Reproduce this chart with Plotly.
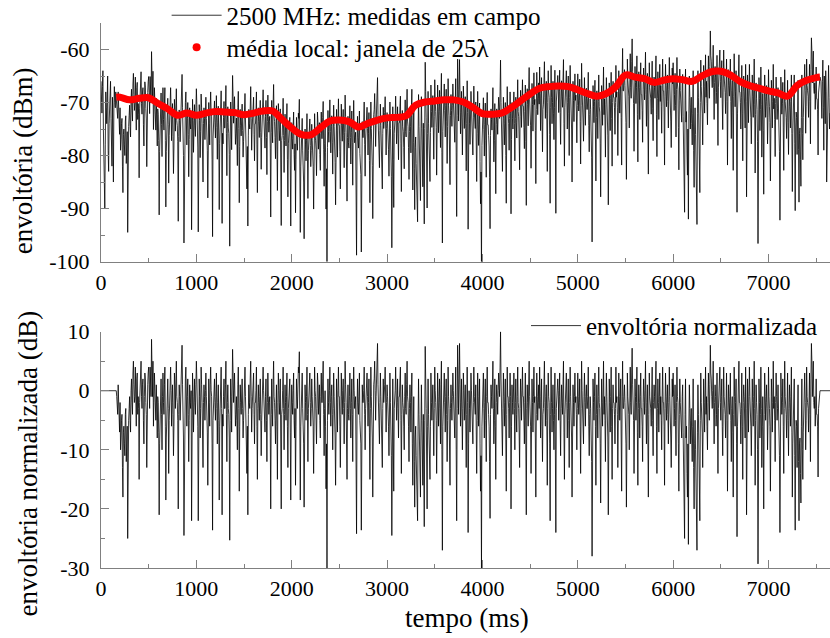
import numpy as np
import plotly.graph_objects as go

FONT = "Liberation Serif, Times New Roman, serif"
AXC = "#808080"

# ---------------- data ----------------
# local mean (red dots) in dBm, time in ms
mean_t = [160, 200, 300, 400, 500, 600, 700, 800, 900, 1000, 1100, 1200, 1300, 1400, 1500,
          1600, 1700, 1800, 1900, 2000, 2100, 2200, 2300, 2400, 2500, 2600, 2700, 2800, 2900,
          3000, 3100, 3200, 3300, 3400, 3500, 3600, 3700, 3800, 3900, 4000, 4100, 4200, 4300,
          4400, 4500, 4600, 4700, 4800, 4900, 5000, 5100, 5200, 5300, 5400, 5500, 5600, 5700,
          5800, 5900, 6000, 6100, 6200, 6300, 6400, 6500, 6600, 6700, 6800, 6900, 7000, 7100,
          7200, 7300, 7400, 7500, 7540]
mean_v = [-69.0, -69.0, -69.5, -69.2, -69.1, -70.2, -71.2, -72.4, -72.0, -72.4, -72.0, -71.7,
          -71.8, -71.9, -72.3, -72.0, -71.6, -71.6, -73.2, -74.8, -76.0, -76.1, -74.8, -73.5,
          -73.3, -73.6, -74.6, -73.9, -73.3, -72.9, -72.8, -72.5, -70.5, -69.9, -69.7, -69.5,
          -69.5, -69.9, -70.9, -72.1, -72.2, -72.0, -71.0, -69.7, -68.4, -67.3, -67.0, -66.9,
          -67.0, -67.6, -68.3, -68.8, -68.3, -67.0, -64.8, -65.2, -65.5, -66.2, -65.8, -65.5,
          -65.7, -66.0, -65.0, -64.2, -64.1, -64.8, -66.0, -66.8, -67.3, -67.8, -68.2, -68.8,
          -66.8, -65.8, -65.3, -65.2]

# normalized envelope (dB), samples at 160, 170, ... ms
norm_0 = [0, -3, 1, -5,
          -2, -8, -4, -18, -6, -11, -3, -9, -25, -5,
          -1, -7, 2, -4, 5, -2, 4, -6, 3, -1,
          -15, 0, 5, -3, 2, -9, 3, -2, -13, 1,
          4, -3, 2, 8.7, -1, -6, 3, -4, 1, -8,
          -2, -21, -5, 2, -10, 3, -4, 4, -18.5, -3,
          2, -14, -1, 4, -6, 1, -11, 3, -3, 5,
          -2, -20, 1, -5, 3, 7.7, -4, -24.5, -1, 4,
          -6, 2, -12, 1, -3, -22, 3, -7, 2, -4]
norm_1 = [5, -3, -22, 2, -8, 4, -2, -13, 1, -5,
          3, -4, -16, 2, -6, 4, -1, -23.6, -3, 2,
          -5, 3, -9, 1, -18.5, -2, 4, -21, -6, 2,
          -3, 5, -12, 1, -4, -25.3, 2, -7, 7, -2,
          3, -6, -1, -10, 4, -17, 1, -4, 2, -8,
          -2, 4, -5, -14, -21, 1, -3, 5, -7, 0,
          3, -9, -2, 4, -15, 1, -5, 2, -11, -1,
          4, -3, -7, 2, -12, 3, -4, -1, -20, 2,
          -6, 5, -2, -9, 1, -15, 3, -4, 2, -20,
          -3, 4, -10, 1, -5, 3, -13, 0, 2, -18.5]
norm_2 = [1, -4, 3, -8, -16, 2, -3, 4, 6.6, -18.5,
          -2, 3, -7, -19.7, 1, -5, 4, -12, -1, 3,
          -6, 2, -3, -14, 4, -1, -9, 3, -4, 1,
          -8, 3, -2, 5, -11, 0, -16.6, -30, 2, -4,
          4, -6, 1, -10, 3, -3, -16, 2, -7, 4,
          -1, -13, 3, -4, 2, -9, 5, -2, -15, 1,
          -5, 3, -8, 2, -12, 4, -3, -1, -24.2, 2,
          -4, 3, -7, -23.6, 1, -2, 4, -10, -1, 3,
          -6, 2, -15, 4, -3, -18, 1, 5, -5, 2,
          8, -2, -9, 3, -4, -13, 2, -1, 4, -7]
norm_3 = [1, -3, -11, 3, -6, -24.5, 2, -17, -2, 4,
          -5, 2, -8, -1, 4, -14, 1, -3, -10, 3,
          -4, 5, -2, -12, 1, -7, 3, -16, -1, -19.7,
          -6, -17, -22, 2, -9, -18, 1, -13, -4, -23,
          7.5, -3, -20, 2, -8, -15, 3, -5, 1, -11,
          4, -2, -14, 3, -6, 2, -9, 5, -27, -1,
          3, -7, 2, -12, 4, -3, -16, 1, -5, 3,
          -2, -8, 4, -22, 7.7, -4, 8, -6, 2, -10,
          3, -5, 1, -13, 4, -24, 0, -7, 3, -2,
          -9, 4, -3, 1, -14, 3, -6, 2, -17, -30]
norm_4 = [-4, 3, -8, 2, -12, 4, -2, -6, -21.6, 1,
          -3, 5, -9, 2, -15, 1, -4, 3, -1, 10,
          -2, -11, 3, -6, 2, -17, 4, -1, -8, 3,
          -20, 1, -4, 3, -10, 2, -7, 4, -3, -13,
          2, -5, 4, -1, -9, 3, -21, 1, -6, 5,
          -3, -14, 2, -7, 4, -1, -18, 3, -5, 1,
          4, -8, 2, -12, -3, 5, -6, 1, -16, 3,
          -2, -22, 4, -7, 1, -10, 3, -24, -1, 2,
          -5, 3, -11, 1, -4, 5, -15, -2, 3, -8,
          2, -13, 4, -3, -18, 1, -6, 3, -1, -10]
norm_5 = [3, -4, 2, -14, 5, -2, -9, 3, -6, 1,
          -3, 4, -11, -1, -7, -28, 2, -5, 3, -16,
          1, -8, 4, -3, -19, 2, -6, 5, -1, -12,
          3, -4, -21, 2, -7, 4, -15, 1, -2, -9,
          4, -1, -13, 3, -5, 2, -17, 5, -3, 1,
          -6, -19.7, 3, -2, -10, 4, -4, 7.2, -1, -14,
          2, -5, 4, -16, 1, -8, 3, -3, -12, 2,
          -4, 5, -9, 1, -18, 3, -2, -6, 4, -11,
          1, -3, 5, -14, 2, -7, 3, -1, -10, 4,
          -2, -16, 3, -5, 1, -9, 4, -3, -13, 2]
norm_6 = [3, -6, 1, -11, 4, -2, -17, 2, -4, -8,
          1, -14, -25, 2, -6, -18, -26, 1, -9, -3,
          -12, 2, -20, -5, -15, -27, 1, -8, -22, 3,
          -4, -13, 2, -7, 4, -1, -10, 3, -5, 7.7,
          2, -3, 5, -9, 1, -6, 3, -14, -1, 4,
          -5, 2, -11, 4, -2, -8, 3, -17, 1, -4,
          3, -12, -1, -18, 4, -6, 2, -24.7, -3, 5,
          -2, -9, 3, -15, 1, -5, 4, -21, 2, -7,
          4, -3, -11, 2, -6, 5, -16, 1, -4, -29.3,
          2, -8, 4, -13, -1, -20, 3, -5, 1, -10]
norm_7 = [4, -3, -17, 2, -7, 5, -1, -12, 3, -5,
          1, -9, -24, 3, -4, 2, -14, 5, -2, -8,
          3, -11, 1, -6, 4, -18, -2, 2, -23.6, -5,
          -13, 1, -22, -8, -19, 2, -15, -4, 3, -10,
          4, -2, -7, 3, -12, 8, -1, 5, -3, -6,
          2, -4, -14.6, -1, 0]

# normalized envelope (dB), in-between samples at 165, 175, ... ms
normb_0 = [-1, -4, -2, -7,
           -10, -5, -13, -7, -9, -4, -12, -6, -8, -3,
           -5, 0, -2, 3, 1, -1, 0, 2, -4, -3,
           -2, 3, -1, 1, -5, -1, 2, -4, 0, 3,
           1, 4, -1, 3, 5, -2, 0, -5, -3, -1,
           -7, -9, 0, -4, -1, -2, 1, -6, -8, 0,
           -3, -5, 2, 0, -2, -4, -6, 1, 2, -1,
           -5, -4, -1, -2, 4, 1, -8, -6, 2, -3,
           -1, -4, -5, -2, 0, -8, -1, -3, -2, 1]
normb_1 = [2, -6, -4, -1, -3, 1, -7, -2, -1, 0,
           -1, -7, -3, -2, 1, 0, -9, -5, -1, -2,
           -1, -3, -2, -5, -6, 0, -3, -4, -1, -3,
           1, -4, -2, -3, -8, -5, -1, 2, 3, 0,
           -2, -4, -5, 1, -3, -6, -2, 0, -3, -5,
           1, -1, -8, -6, -4, -2, 2, -1, -3, 1,
           -4, -2, 0, -6, -3, -2, -1, -4, -5, 2,
           0, -4, -1, -5, -2, -1, -2, -7, -4, -3,
           1, -1, -5, -3, -6, -2, 0, -2, -8, -4,
           0, -3, -4, -2, -1, -6, -3, -1, -7, -4]
normb_2 = [-2, 0, -5, -3, -6, -1, 1, 3, -4, -6,
           0, -3, -9, -6, -2, -1, -4, -3, 1, -2,
           -3, -1, -6, -5, 0, -4, -3, 1, -2, -5,
           -1, -2, 2, -4, -3, -6, -9, -5, -2, 0,
           -2, -1, -4, -3, -1, -8, -5, -2, 0, -1,
           -6, -4, -1, 0, -3, -2, 1, -7, -3, -4,
           -1, -3, -2, -4, -1, 0, -2, -9, -4, -2,
           -1, -5, -9, -3, -2, 0, -4, -3, -2, -1,
           -2, -7, -3, -1, -8, -4, 2, 0, -1, 3,
           1, -4, -2, -1, -7, -3, -2, 1, -3, -2]
normb_3 = [-1, -6, -4, -2, -11, -5, -8, -3, 0, -2,
           -2, -3, -1, 2, -5, -4, -2, -6, -1, -3,
           1, -1, -6, -3, -2, -1, -9, -7, -12, -8,
           -11, -14, -6, -4, -12, -7, -5, -16, -10, -5,
           2, -9, -6, -4, -10, -6, -2, -1, -5, -3,
           0, -5, -4, -1, -2, -3, 1, -10, -6, 0,
           -2, -1, -4, -5, -1, -8, -3, -2, -1, 0,
           -4, -1, -10, -3, 2, 3, 1, -2, -4, -3,
           0, -1, -5, -4, -2, -9, -3, -1, 0, -5,
           -2, -1, -4, -7, -5, -1, -2, -9, -11, -6]
normb_4 = [-1, -3, -2, -5, -1, -2, -4, -12, -4, -1,
           0, -3, -5, -6, -2, -1, 0, 1, 4, 2,
           -5, -3, -1, -2, -8, -4, -1, -3, -2, -1,
           -6, -2, -1, -3, -2, -4, -1, -2, -7, -3,
           -1, 0, -1, -5, -2, -9, -3, -2, 1, -1,
           -6, -4, -2, -1, -2, -8, -4, -1, -2, -3,
           -1, -2, -6, -4, 1, -2, -1, -5, -3, -1,
           -9, -4, -2, -3, -5, -4, -10, -3, -1, 0,
           -1, -5, -3, -2, 1, -7, -4, -1, -2, -3,
           -5, -2, -1, -8, -4, -2, -1, -2, -4, -3]
normb_5 = [-1, -2, -6, -3, 0, -5, -1, -2, -1, -3,
           -1, -6, -4, -3, -12, -9, -2, -1, -6, -4,
           -3, -1, -2, -9, -6, -2, 0, -4, -5, -2,
           -1, -8, -5, -2, -1, -6, -3, -2, -4, -3,
           -2, -4, -5, -1, -2, -8, -1, -3, -1, -2,
           -9, -5, -1, -4, -3, -2, 3, 1, -5, -3,
           -1, -2, -7, -3, -2, -1, -3, -6, -2, -1,
           0, -3, -2, -8, -4, -1, -3, -2, -5, -2,
           -1, 1, -6, -3, -2, -1, -4, -5, -1, -2,
           -6, -3, -1, -2, -4, -2, -1, -8, -3, -1]
normb_6 = [-1, -3, -5, -2, -1, -9, -4, -2, -3, -1,
           -7, -12, -4, -8, -14, -9, -6, -3, -5, -8,
           -6, -13, -9, -10, -16, -7, -4, -12, -5, -2,
           -7, -3, -2, -1, -4, -6, -2, -1, 1, 3,
           -1, 0, -3, -2, -1, -4, -5, -3, 0, -2,
           -1, -6, -3, -1, -4, -2, -5, -4, -2, -1,
           -5, -3, -7, -4, -1, -2, -9, -6, -1, -2,
           -4, -3, -6, -2, -1, -8, -3, -5, -2, -1,
           -1, -6, -4, -2, -1, -3, -5, -2, -10, -4,
           -2, -4, -3, -6, -8, -4, -1, -2, -3, -5]
normb_7 = [-1, -6, -4, -1, -2, -3, -5, -2, -1, -3,
           -4, -11, -5, -1, -2, -6, -3, -1, -4, -2,
           -5, -3, -2, -1, -7, -9, -3, -11, -8, -6,
           -8, -12, -9, -14, -6, -10, -7, -3, -2, -5,
           -1, -3, 0, -4, 2, 5, 3, -2, -1, -3,
           -4, -6, -3, -2]

# raw envelope (dBm) outside the local-mean window
raw_head = [-66, -72, -64, -80, -90, -68, -74, -65, -83, -70, -66, -77, -69, -85, -67, -71]   # 0, 10 .. 150 ms
raw_head_b = [-70, -67, -75, -86, -78, -71, -69, -79, -74, -68, -73, -82, -75, -71, -70, -68]  # 5, 15 .. 155 ms
raw_tail = [-66, -73, -62, -79, -68, -64, -85, -70, -63, -75]     # 7550 .. 7640 ms
raw_tail_b = [-70, -66, -71, -65, -74, -68, -77, -66, -69, -72]   # 7555 .. 7645 ms

# ---------------- assemble ----------------
norm_a = np.array(norm_0 + norm_1 + norm_2 + norm_3 + norm_4 + norm_5 + norm_6 + norm_7, dtype=float)
norm_b = np.array(normb_0 + normb_1 + normb_2 + normb_3 + normb_4 + normb_5 + normb_6 + normb_7, dtype=float)
t_a = 160 + 10 * np.arange(len(norm_a))
t_b = 165 + 10 * np.arange(len(norm_b))
t_norm = np.concatenate([t_a, t_b])
norm = np.concatenate([norm_a, norm_b])
o = np.argsort(t_norm, kind="stable")
t_norm, norm = t_norm[o], norm[o]

mt = np.array(mean_t, dtype=float)
mv = np.array(mean_v, dtype=float)
nearest = np.abs(t_norm[:, None] - mt[None, :]).argmin(axis=1)
raw_mid = norm + mv[nearest]

t_edge = np.concatenate([10 * np.arange(16), 5 + 10 * np.arange(16),
                         7550 + 10 * np.arange(10), 7555 + 10 * np.arange(10)])
v_edge = np.array(raw_head + raw_head_b + raw_tail + raw_tail_b, dtype=float)
t_raw = np.concatenate([t_edge, t_norm])
raw = np.concatenate([v_edge, raw_mid])
o = np.argsort(t_raw, kind="stable")
t_raw, raw = t_raw[o], raw[o]

XMAX = 7645
t_bot = np.concatenate([[0], t_norm, [XMAX]])
v_bot = np.concatenate([[0], norm, [0]])

# ---------------- figure ----------------
LW = 0.8
fig = go.Figure()
fig.add_trace(go.Scatter(x=t_raw, y=raw, mode="lines", line=dict(color="black", width=LW),
                         name="2500 MHz: medidas em campo", xaxis="x", yaxis="y", legend="legend"))
fig.add_trace(go.Scatter(x=mean_t, y=mean_v, mode="lines", line=dict(color="#ff0000", width=7, shape="spline"),
                         showlegend=False, xaxis="x", yaxis="y"))
fig.add_trace(go.Scatter(x=[None], y=[None], mode="markers", marker=dict(color="#ff0000", size=8),
                         name="média local: janela de 25λ", xaxis="x", yaxis="y", legend="legend3"))
fig.add_trace(go.Scatter(x=t_bot, y=v_bot, mode="lines", line=dict(color="black", width=LW),
                         name="envoltória normalizada", xaxis="x2", yaxis="y2", legend="legend2"))

xticks = [0, 1000, 2000, 3000, 4000, 5000, 6000, 7000]
xminor = [500, 1500, 2500, 3500, 4500, 5500, 6500, 7500]
tickfont = dict(family=FONT, size=22, color="black")

def xax(anchor, domain):
    return dict(domain=domain, anchor=anchor, range=[0, XMAX], showline=True, linecolor=AXC, linewidth=1,
                showgrid=False, zeroline=False, ticks="inside", ticklen=8, tickcolor=AXC,
                tickvals=xticks, ticktext=[str(v) for v in xticks], tickfont=tickfont,
                ticklabelstandoff=1,
                minor=dict(tickvals=xminor, ticks="inside", ticklen=4, tickcolor=AXC))

legfont = dict(family=FONT, size=25, color="black")
fig.update_layout(
    width=830, height=638,
    margin=dict(l=101, r=0, t=23, b=70, autoexpand=False),
    paper_bgcolor="white", plot_bgcolor="white",
    font=dict(family=FONT, color="black"),
    xaxis=xax("y", [0, 1]),
    xaxis2=xax("y2", [0, 1]),
    yaxis=dict(domain=[0.5623, 1], anchor="x", range=[-100, -55], showline=True, linecolor=AXC,
               showgrid=False, zeroline=False, ticks="inside", ticklen=8, tickcolor=AXC,
               tickvals=[-100, -90, -80, -70, -60], ticktext=["-100", "-90", "-80", "-70", "-60"],
               tickfont=tickfont, ticklabelstandoff=6,
               minor=dict(tickvals=[-95, -85, -75, -65, -55], ticks="inside", ticklen=4, tickcolor=AXC)),
    yaxis2=dict(domain=[0, 0.4337], anchor="x2", range=[-30, 10], showline=True, linecolor=AXC,
                showgrid=False, zeroline=False, ticks="inside", ticklen=8, tickcolor=AXC,
                tickvals=[-30, -20, -10, 0, 10], ticktext=["-30", "-20", "-10", "0", "10"],
                tickfont=tickfont, ticklabelstandoff=6,
                minor=dict(tickvals=[-25, -15, -5, 5], ticks="inside", ticklen=4, tickcolor=AXC)),
    legend=dict(x=0.09, y=1.056, xanchor="left", yanchor="top", bgcolor="rgba(0,0,0,0)",
                font=legfont, itemwidth=50),
    legend3=dict(x=0.09, y=0.9973, xanchor="left", yanchor="top", bgcolor="rgba(0,0,0,0)",
                 font=legfont, itemwidth=50),
    legend2=dict(x=0.583, y=0.4865, xanchor="left", yanchor="top", bgcolor="rgba(0,0,0,0)",
                 font=legfont, itemwidth=50),
    showlegend=True,
)

def px2paper(px, py):
    return (px - 101.5) / 728.5, (567.7 - py) / 544.2

tf = dict(family=FONT, size=27, color="black")
ax_, ay_ = px2paper(23, 161)
fig.add_annotation(x=ax_, y=ay_, xref="paper", yref="paper", text="envoltória (dBm)", textangle=-90,
                   showarrow=False, font=tf, xanchor="center", yanchor="middle")
ax_, ay_ = px2paper(29, 463)
fig.add_annotation(x=ax_, y=ay_, xref="paper", yref="paper", text="envoltória normalizada (dB)", textangle=-90,
                   showarrow=False, font=tf, xanchor="center", yanchor="middle")
ax_, ay_ = px2paper(467, 618)
fig.add_annotation(x=ax_, y=ay_, xref="paper", yref="paper", text="tempo (ms)",
                   showarrow=False, font=tf, xanchor="center", yanchor="middle")

fig.write_html("out.html")
